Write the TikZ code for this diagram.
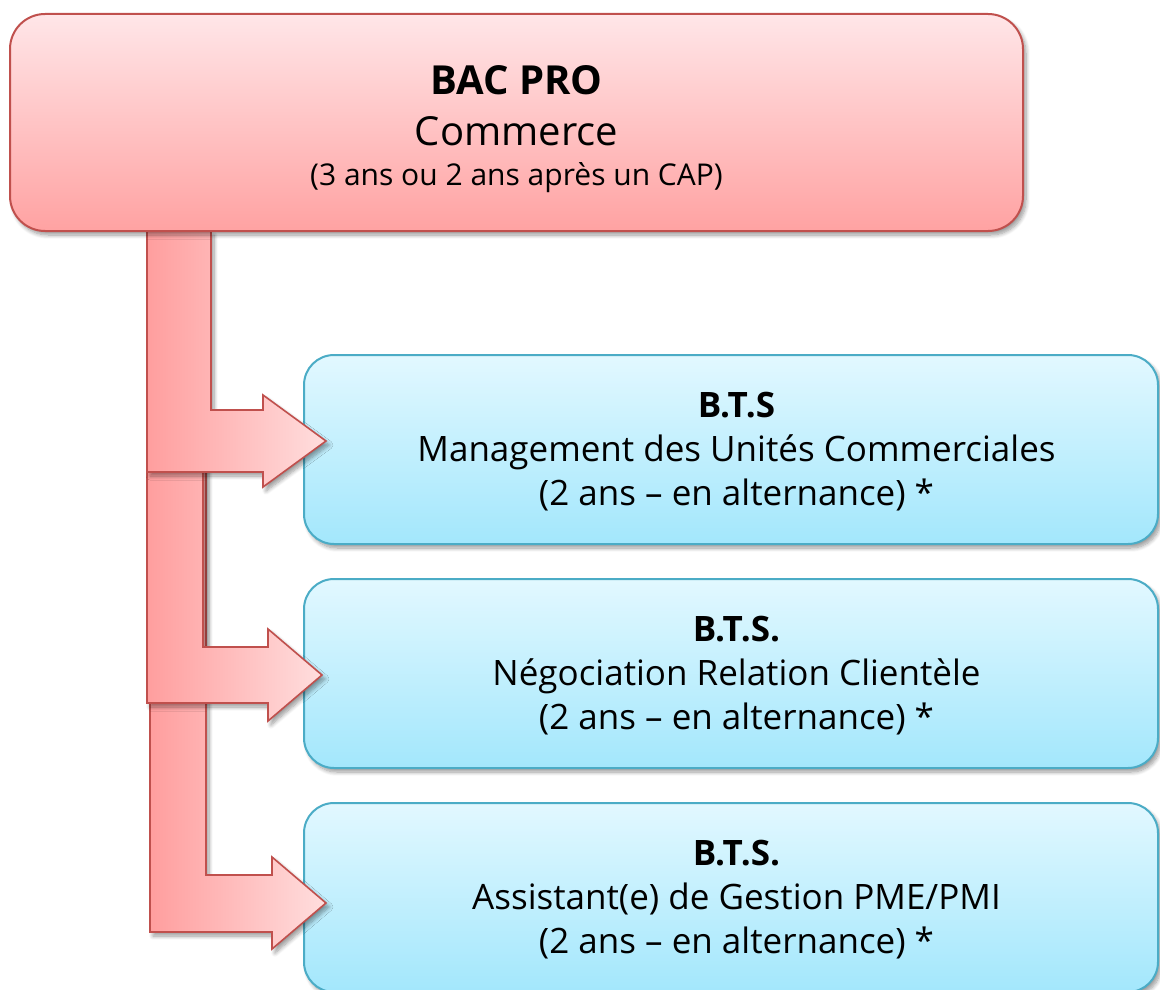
\documentclass[tikz,border=0pt]{standalone}
\usepackage{fontspec}
\setmainfont{Open Sans}
\usetikzlibrary{shadows.blur}
\definecolor{redline}{HTML}{C0504D}
\definecolor{redtop}{HTML}{FFE6E8}
\definecolor{redbot}{HTML}{FFA2A2}
\definecolor{arrL}{HTML}{FF9E9E}
\definecolor{arrR}{HTML}{FFDEDE}
\definecolor{blueline}{HTML}{4BACC6}
\definecolor{bluetop}{HTML}{E2F8FF}
\definecolor{bluebot}{HTML}{A3E7FC}
\begin{document}
\begin{tikzpicture}[x=1pt,y=-1pt,
  shadowed/.style={blur shadow={shadow xshift=3pt,shadow yshift=-4pt,shadow blur radius=4pt,shadow blur steps=8,shadow opacity=40}},
  redbox/.style={shadowed, draw=redline, line width=2pt, top color=redtop, bottom color=redbot, rounded corners=35pt, inner sep=0pt},
  bluebox/.style={shadowed, draw=blueline, line width=2pt, top color=bluetop, bottom color=bluebot, rounded corners=30pt, inner sep=0pt, minimum width=854pt, minimum height=189pt},
  bentarrow/.style={shadowed, draw=redline, line width=1.6pt, left color=arrL, right color=arrR, line join=miter},
  txt/.style={anchor=base, inner sep=0pt, text=black},
  big/.style={txt, font=\fontsize{40}{48}\selectfont},
  small/.style={txt, font=\fontsize{30}{36}\selectfont},
  mid/.style={txt, font=\fontsize{35}{42}\selectfont}]
\useasboundingbox (0,0) rectangle (1160,990);

% target boxes
\node[bluebox] (b1) at (731,449.5) {};
\node[bluebox] (b2) at (731,673.5) {};
\node[bluebox] (b3) at (731,897.5) {};

% top box (named first for reference, drawn later)
\path (516.5,122.5) coordinate (bacc);
\coordinate (stemtop) at (0,231);

% bent arrows: back to front
\shade[bentarrow] (150,0 |- stemtop) -- (206,0 |- stemtop) -- (206,875) -- (272,875) -- (272,857)
   -- ([xshift=23pt,yshift=-5.5pt]b3.west) -- (272,949) -- (272,932) -- (150,932) -- cycle;
\shade[bentarrow] (147,0 |- stemtop) -- (203,0 |- stemtop) -- (203,647) -- (268,647) -- (268,629)
   -- ([xshift=19pt,yshift=-1.5pt]b2.west) -- (268,721) -- (268,703) -- (147,703) -- cycle;
\shade[bentarrow] (147,0 |- stemtop) -- (211,0 |- stemtop) -- (211,410) -- (263,410) -- (263,395)
   -- ([xshift=23pt,yshift=8.5pt]b1.west) -- (263,487) -- (263,472) -- (147,472) -- cycle;

% source box
\node[redbox, minimum width=1013pt, minimum height=217pt] (bac) at (bacc) {};

% texts
\node[big, font=\fontsize{40}{48}\selectfont\bfseries] (bac1) at (516.5,95) {BAC PRO};
\node[big] (bac2) at (516.5,145) {Commerce};
\node[small] (bac3) at (516.5,185) {(3 ans ou 2 ans après un CAP)};

\node[mid, font=\fontsize{35}{42}\selectfont\bfseries] (b1l1) at (736.5,417) {B.T.S};
\node[mid] (b1l2) at (736.5,461) {Management des Unités Commerciales};
\node[mid] (b1l3) at (736.5,505) {(2 ans – en alternance) *};

\node[mid, font=\fontsize{35}{42}\selectfont\bfseries] (b2l1) at (736.5,641) {B.T.S.};
\node[mid] (b2l2) at (736.5,685) {Négociation Relation Clientèle};
\node[mid] (b2l3) at (736.5,729) {(2 ans – en alternance) *};

\node[mid, font=\fontsize{35}{42}\selectfont\bfseries] (b3l1) at (736.5,865) {B.T.S.};
\node[mid] (b3l2) at (736.5,909) {Assistant(e) de Gestion PME/PMI};
\node[mid] (b3l3) at (736.5,953) {(2 ans – en alternance) *};
\end{tikzpicture}
\end{document}
